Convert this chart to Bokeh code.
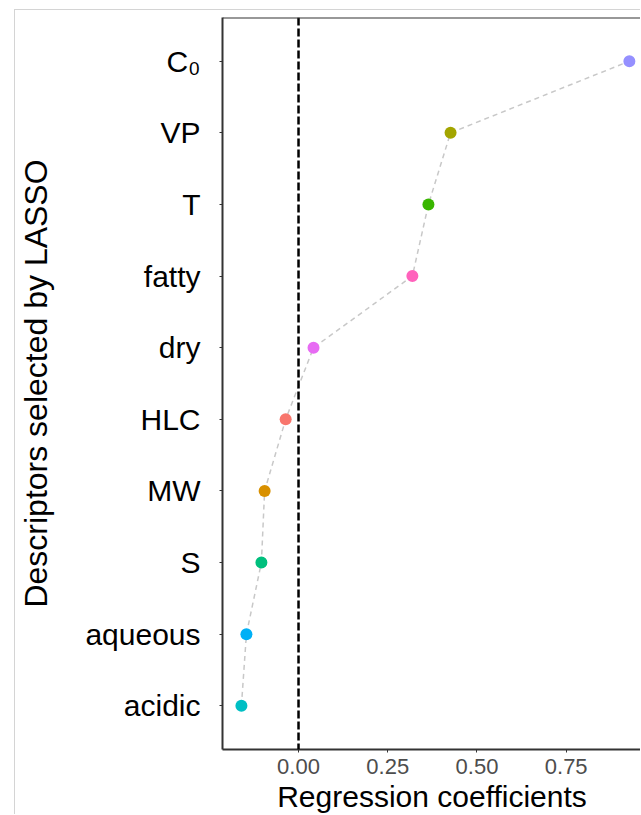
import numpy as np
from bokeh.plotting import figure
from bokeh.models import Range1d, FixedTicker, NumeralTickFormatter, Span, ColumnDataSource
from bokeh.embed import file_html
from bokeh.resources import INLINE

# Data (bottom to top)
descriptors = ["acidic", "aqueous", "S", "MW", "HLC", "dry", "fatty", "T", "VP", "C₀"]
coefficients = [-0.160, -0.146, -0.104, -0.095, -0.036, 0.042, 0.319, 0.364, 0.426, 0.927]
colors = ["#00BFC4", "#00B0F6", "#00BF7D", "#D89000", "#F8766D",
          "#E76BF3", "#FF62BC", "#39B600", "#A3A500", "#9590FF"]
x_ticks = [0.0, 0.25, 0.50, 0.75]

ypos = list(range(1, len(descriptors) + 1))
src = ColumnDataSource(dict(x=coefficients, y=ypos, c=colors))

p = figure(width=626, height=805, output_backend="svg", toolbar_location=None,
           x_range=Range1d(-0.213, 0.961), y_range=Range1d(0.39, 10.61),
           min_border_left=207, min_border_top=7, min_border_bottom=66, min_border_right=0)
p.styles = {"margin-left": "14px", "margin-top": "9px",
            "border-left": "1px solid #d4d4d4", "border-top": "1px solid #d4d4d4"}

p.outline_line_color = None
p.xgrid.visible = False
p.ygrid.visible = False
p.background_fill_color = "white"
p.border_fill_color = "white"

# zero line
p.add_layout(Span(location=0, dimension="height", line_color="black",
                  line_width=2.5, line_dash="8 3"))
# top frame edge
p.add_layout(Span(location=10.61, dimension="width", line_color="#333333", line_width=2))

p.line("x", "y", source=src, line_color="#c8c8c8", line_width=1.5, line_dash="5 4")
p.scatter("x", "y", source=src, size=12, fill_color="c", line_color=None)

# x axis
xa = p.xaxis[0]
xa.ticker = FixedTicker(ticks=x_ticks)
xa.formatter = NumeralTickFormatter(format="0.00")
xa.axis_label = "Regression coefficients"
xa.axis_label_text_font = "Liberation Sans"
xa.axis_label_text_font_style = "normal"
xa.axis_label_text_font_size = "30px"
xa.axis_label_text_color = "black"
xa.axis_label_standoff = 3
xa.major_label_text_font = "Liberation Sans"
xa.major_label_text_font_size = "22px"
xa.major_label_text_color = "#4d4d4d"
xa.major_label_standoff = 6
xa.axis_line_color = "#333333"
xa.axis_line_width = 2
xa.major_tick_in = 0
xa.major_tick_out = 3
xa.major_tick_line_color = "#333333"
xa.minor_tick_line_color = None

# y axis
ya = p.yaxis[0]
ya.ticker = FixedTicker(ticks=ypos)
ya.major_label_overrides = {y: d for y, d in zip(ypos, descriptors)}
ya.axis_label = "Descriptors selected by LASSO"
ya.axis_label_text_font = "Liberation Sans"
ya.axis_label_text_font_style = "normal"
ya.axis_label_text_font_size = "32px"
ya.axis_label_text_color = "black"
ya.axis_label_standoff = 28
ya.major_label_text_font = "Liberation Sans"
ya.major_label_text_font_size = "30px"
ya.major_label_text_color = "black"
ya.major_label_standoff = 19
ya.axis_line_color = "#333333"
ya.axis_line_width = 2
ya.major_tick_in = 0
ya.major_tick_out = 3
ya.major_tick_line_color = "#333333"
ya.minor_tick_line_color = None

open("out.html", "w").write(file_html(p, INLINE))
